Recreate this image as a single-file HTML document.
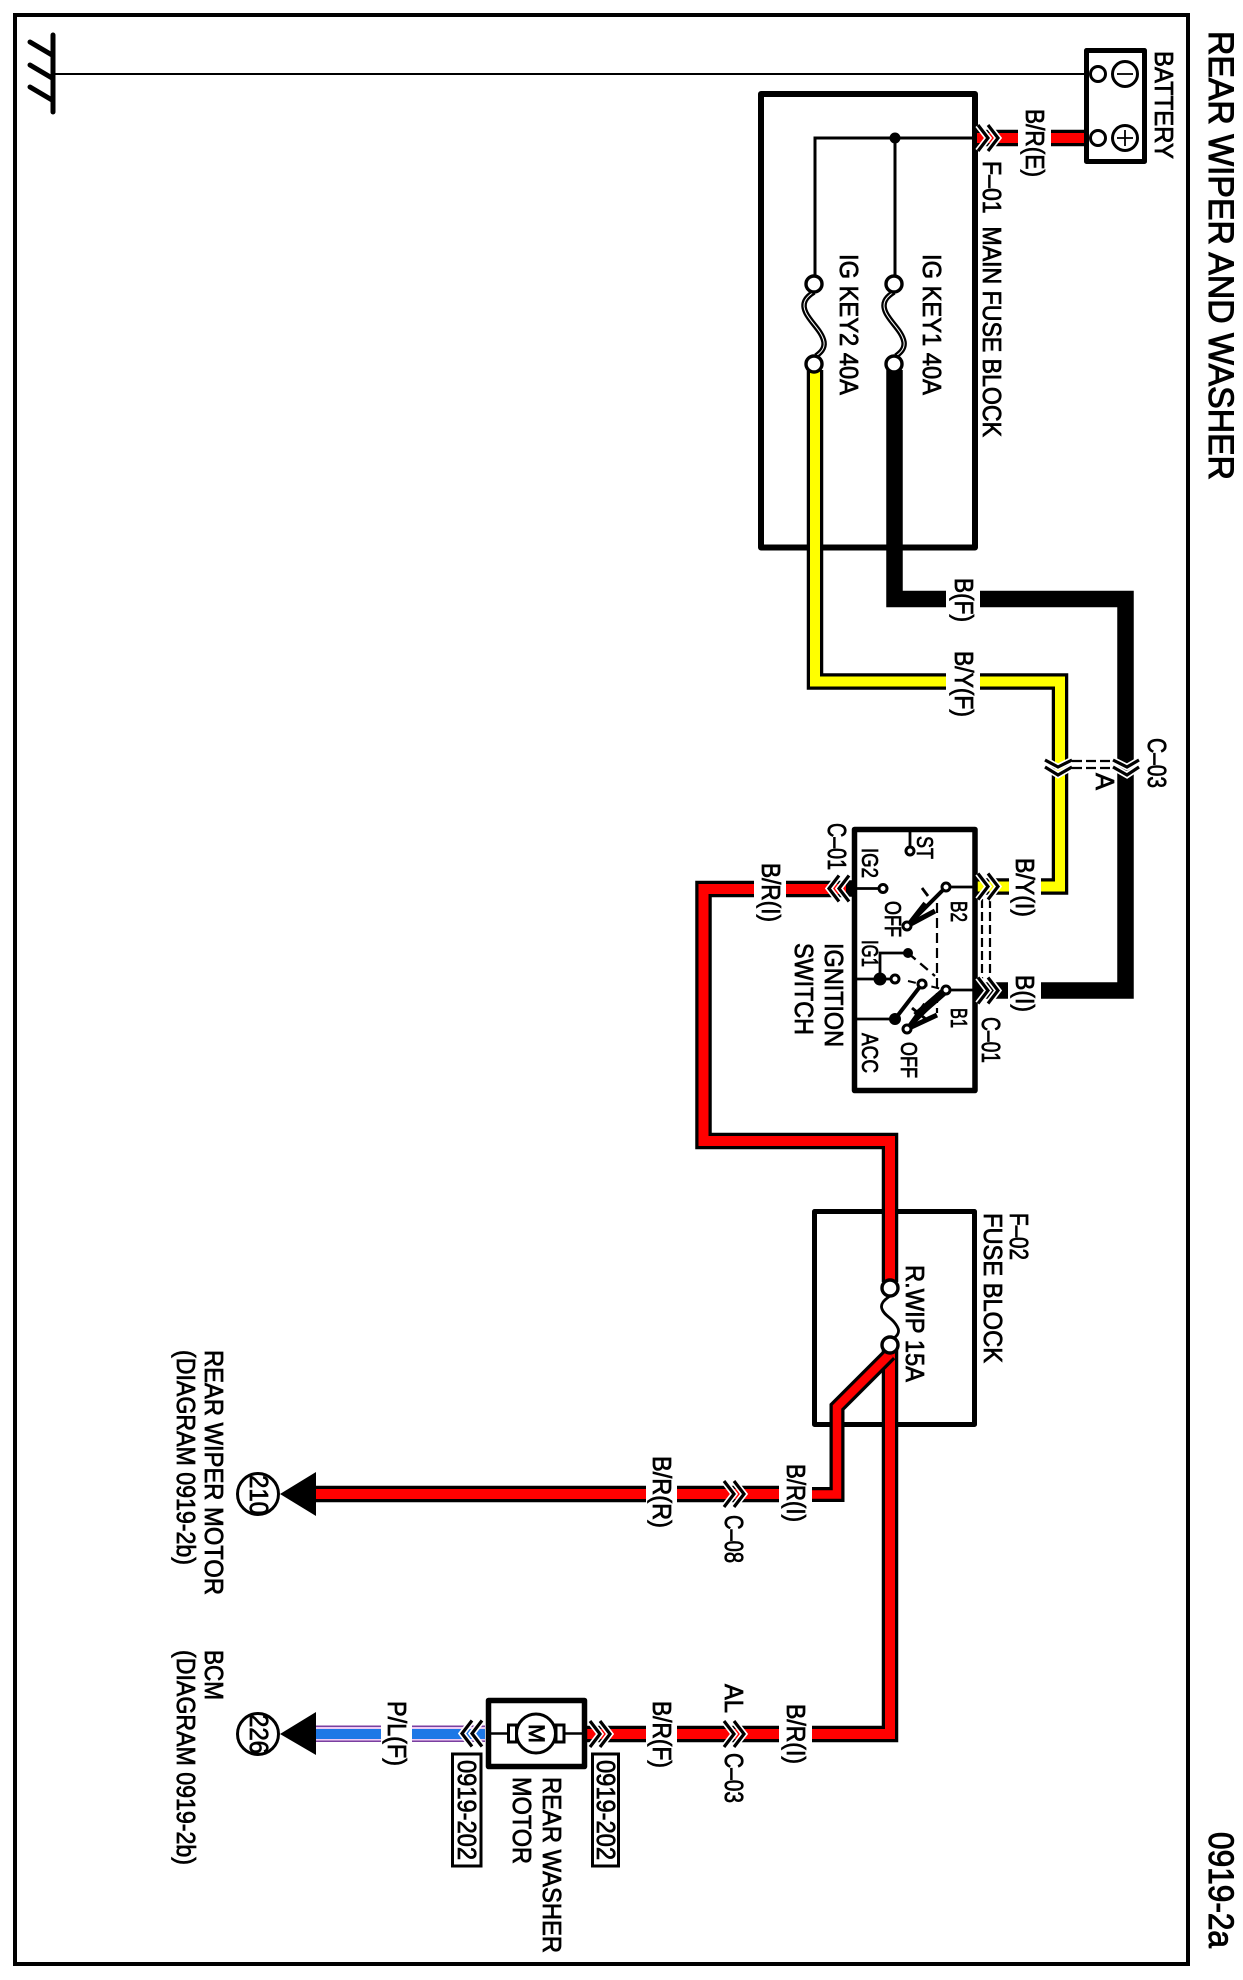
<!DOCTYPE html>
<html><head><meta charset="utf-8"><style>
html,body{margin:0;padding:0;background:#fff}
svg{display:block}
text{font-family:"Liberation Sans",sans-serif;fill:#000;stroke:#000;stroke-width:.75}
.bk{fill:none;stroke:#000;stroke-width:16.5;stroke-linejoin:miter}
.r{fill:none;stroke:#f00;stroke-width:10;stroke-linejoin:miter}
.y{fill:none;stroke:#ff0;stroke-width:10;stroke-linejoin:miter}
.box{fill:none;stroke:#000;stroke-width:5;stroke-linejoin:round}
.t{fill:none;stroke:#000;stroke-width:2.5}
.c{fill:#fff;stroke:#000;stroke-width:3.4}
.s{fill:#fff;stroke:#000;stroke-width:3}
.chw{fill:none;stroke:#fff;stroke-width:6.5}
.chb{fill:none;stroke:#000;stroke-width:3.2}
</style></head><body>
<svg xmlns="http://www.w3.org/2000/svg" width="1243" height="1980" viewBox="0 0 1243 1980">
<defs>
<g id="ch">
<polyline class="chw" points="-14,-13 -4,0 -14,13"/><polyline class="chw" points="-4,-13 6,0 -4,13"/>
<polyline class="chb" points="-14,-13 -4,0 -14,13"/><polyline class="chb" points="-4,-13 6,0 -4,13"/>
</g>
<g id="fz">
<path d="M814,292C806,297 801,303 806,313C811,323 822,331 824,342C825,349 820,353 816,356" fill="none" stroke="#000" stroke-width="5.5"/>
<path d="M814,292C806,297 801,303 806,313C811,323 822,331 824,342C825,349 820,353 816,356" fill="none" stroke="#fff" stroke-width="1"/>
</g>
</defs>
<rect width="1243" height="1980" fill="#fff"/>
<!-- frame -->
<rect x="15" y="15" width="1173" height="1949" fill="none" stroke="#000" stroke-width="4"/>
<!-- ground -->
<line x1="53" y1="35" x2="53" y2="112" stroke="#000" stroke-width="5" stroke-linecap="round"/>
<g stroke="#000" stroke-width="5" stroke-linecap="round">
<line x1="30" y1="42" x2="52" y2="55"/><line x1="30" y1="65" x2="52" y2="78"/><line x1="30" y1="87" x2="52" y2="100"/>
</g>
<line x1="53" y1="74" x2="1086" y2="74" stroke="#000" stroke-width="2"/>
<!-- main fuse block -->
<rect x="761" y="94" width="214" height="453.5" class="box" style="stroke-width:6"/>
<!-- battery -->
<polyline class="bk" points="1018,138 977,138"/><polyline class="r" points="1018,138 977,138"/>
<polyline class="bk" points="1084,138 1051,138"/><polyline class="r" points="1084,138 1051,138"/>
<rect x="1086.5" y="50.5" width="58" height="111" class="box"/>
<circle cx="1098" cy="74" r="7.5" class="s"/><circle cx="1098" cy="138" r="7.5" class="s"/>
<circle cx="1125" cy="74" r="12.5" class="s"/><circle cx="1125" cy="138" r="12.5" class="s"/>
<line x1="1117" y1="74" x2="1133" y2="74" class="t" style="stroke-width:1.8"/>
<line x1="1117" y1="138" x2="1133" y2="138" class="t" style="stroke-width:1.8"/><line x1="1125" y1="130" x2="1125" y2="146" class="t" style="stroke-width:1.8"/>
<polyline points="815,275 815,138 977,138" fill="none" stroke="#000" stroke-width="3"/>
<line x1="895" y1="138" x2="895" y2="275" stroke="#000" stroke-width="3"/>
<circle cx="895" cy="138" r="5.5"/>
<use href="#ch" transform="translate(992,138)"/>
<use href="#fz"/><use href="#fz" transform="translate(80,0)"/>
<!-- black wire -->
<polyline class="bk" points="894.5,370 894.5,599 946,599"/>
<polyline class="bk" points="980,599 1125.5,599 1125.5,990.5 1041,990.5"/>
<polyline class="bk" points="977,990.5 1008,990.5"/>
<!-- yellow wire -->
<polyline class="bk" points="815,370 815,681.5 946,681.5"/><polyline class="y" points="815,370 815,681.5 946,681.5"/>
<polyline class="bk" points="980,681.5 1060,681.5 1060,886.5 1041,886.5"/><polyline class="y" points="980,681.5 1060,681.5 1060,886.5 1041,886.5"/>
<polyline class="bk" points="977,886.5 1009,886.5"/><polyline class="y" points="977,886.5 1009,886.5"/>
<circle cx="814" cy="284" r="8" class="c"/><circle cx="814" cy="364" r="8" class="c"/>
<circle cx="894" cy="284" r="8" class="c"/><circle cx="894" cy="364" r="8" class="c"/>
<!-- C-03 chevrons -->
<g>
<polyline class="chw" points="1045,760 1058,767 1072,760"/><polyline class="chw" points="1045,767 1058,775 1072,767"/>
<polyline class="chw" points="1113,760 1127,767 1139,760"/><polyline class="chw" points="1113,767 1127,775 1139,767"/>
<polyline class="chb" points="1045,760 1058,767 1072,760"/><polyline class="chb" points="1045,767 1058,775 1072,767"/>
<polyline class="chb" points="1113,760 1127,767 1139,760"/><polyline class="chb" points="1113,767 1127,775 1139,767"/>
<line x1="1072" y1="761" x2="1113" y2="761" stroke="#000" stroke-width="2.2" stroke-dasharray="10 4"/>
<line x1="1072" y1="768" x2="1113" y2="768" stroke="#000" stroke-width="2.2" stroke-dasharray="10 4"/>
</g>
<!-- red wires -->
<polyline class="bk" points="846,889 786,889"/><polyline class="r" points="846,889 786,889"/>
<!-- F-02 box -->
<rect x="814.5" y="1211.5" width="160" height="213" class="box"/>
<polyline class="bk" points="754,889 703.5,889 703.5,1141 890,1141 890,1282"/><polyline class="r" points="754,889 703.5,889 703.5,1141 890,1141 890,1282"/>
<polyline class="bk" points="890,1350 890,1734 812,1734"/><polyline class="r" points="890,1350 890,1734 812,1734"/>
<polyline class="bk" style="stroke-width:15" points="890,1354 837,1407 837,1494.5 812,1494.5"/><polyline class="r" style="stroke-width:8.5" points="890,1354 837,1407 837,1494.5 812,1494.5"/>
<polyline class="bk" points="779,1494 677,1494"/><polyline class="r" points="779,1494 677,1494"/>
<polyline class="bk" points="646,1494 316,1494"/><polyline class="r" points="646,1494 316,1494"/>
<polyline class="bk" points="779,1734 677,1734"/><polyline class="r" points="779,1734 677,1734"/>
<polyline class="bk" points="646,1734 587,1734"/><polyline class="r" points="646,1734 587,1734"/>
<circle cx="890" cy="1288" r="8" class="c"/><circle cx="890" cy="1345" r="8" class="c"/>
<path d="M890,1296C884,1300 880,1304 882,1309C884,1315 890,1317 894,1322C899,1328 901,1333 894,1338" fill="none" stroke="#000" stroke-width="2.8"/>
<use href="#ch" transform="translate(738,1494)"/>
<use href="#ch" transform="translate(738,1734)"/>
<use href="#ch" transform="translate(604,1734)"/>
<!-- blue wire -->
<g>
<rect x="316" y="1725.5" width="65" height="16.5" fill="#7a3fa0"/><rect x="316" y="1727" width="65" height="13.5" fill="#eecbf5"/><rect x="316" y="1729" width="65" height="10" fill="#1e78e6"/>
<rect x="412" y="1725.5" width="73" height="16.5" fill="#7a3fa0"/><rect x="412" y="1727" width="73" height="13.5" fill="#eecbf5"/><rect x="412" y="1729" width="73" height="10" fill="#1e78e6"/>
</g>
<use href="#ch" transform="translate(468,1733.5) rotate(180)"/>
<!-- terminals -->
<polygon points="280,1494 316,1472 316,1516" fill="#000"/>
<polygon points="280,1734 316,1712 316,1755" fill="#000"/>
<circle cx="258" cy="1494" r="20.5" class="s"/><circle cx="258" cy="1734" r="20.5" class="s"/>
<!-- motor -->
<rect x="488.5" y="1700.5" width="96" height="66" class="box" style="stroke-width:5.5"/>
<line x1="490" y1="1733.5" x2="586" y2="1733.5" class="t"/>
<rect x="508.5" y="1725" width="8" height="17" class="s"/><rect x="556" y="1725" width="8" height="17" class="s"/>
<circle cx="536" cy="1733.5" r="19.5" class="s"/>
<rect x="452.5" y="1754" width="28.5" height="112" fill="#fff" stroke="#000" stroke-width="3"/>
<rect x="592.5" y="1754" width="26" height="112" fill="#fff" stroke="#000" stroke-width="3"/>
<!-- ignition switch -->
<rect x="854.5" y="829.5" width="120.5" height="261" class="box" style="stroke-width:5.5"/>
<polyline class="bk" points="852,888.5 846,888.5"/>
<use href="#ch" transform="translate(835,888.5) rotate(180)"/>
<line x1="982" y1="899" x2="982" y2="983" stroke="#000" stroke-width="2.2" stroke-dasharray="9 4"/>
<line x1="990" y1="899" x2="990" y2="983" stroke="#000" stroke-width="2.2" stroke-dasharray="9 4"/>
<use href="#ch" transform="translate(992,886.5)"/><use href="#ch" transform="translate(992,990.5)"/>
<g stroke="#000" fill="none">
<line x1="910" y1="829" x2="910" y2="850" stroke-width="2.8"/>
<line x1="854" y1="888.5" x2="880" y2="888.5" stroke-width="2.8"/>
<line x1="950" y1="887" x2="975" y2="887" stroke-width="2.8"/>
<line x1="950" y1="990" x2="975" y2="990" stroke-width="2.8"/>
<line x1="854" y1="979" x2="892" y2="979" stroke-width="2.8"/>
<polyline points="880,979 880,953 908,953" stroke-width="2.8"/>
<line x1="854" y1="1019" x2="895" y2="1019" stroke-width="2.8"/>
<line x1="946" y1="887" x2="907" y2="926" stroke-width="4"/>
<line x1="907" y1="926" x2="935" y2="911" stroke-width="5"/>
<line x1="907" y1="926" x2="925" y2="903" stroke-width="4"/>
<line x1="922" y1="888" x2="928" y2="896" stroke-width="2.8"/>
<line x1="937" y1="903" x2="937" y2="1013" stroke-width="2.2" stroke-dasharray="10 5"/>
<line x1="908" y1="953" x2="935" y2="976" stroke-width="2.4" stroke-dasharray="10 6"/>
<line x1="908" y1="981" x2="946" y2="990" stroke-width="2" stroke-dasharray="8 4"/>
<line x1="922" y1="984" x2="895" y2="1019" stroke-width="4"/>
<line x1="946" y1="990" x2="907" y2="1029" stroke-width="4"/>
<line x1="946" y1="990" x2="916" y2="1016" stroke-width="8"/>
<line x1="907" y1="1029" x2="937" y2="1015" stroke-width="5"/>
<line x1="907" y1="1029" x2="925" y2="1004" stroke-width="4"/>
<line x1="912" y1="1008" x2="927" y2="1020" stroke-width="3"/>
</g>
<circle cx="910" cy="851" r="4" class="s"/><circle cx="883" cy="888.5" r="4" class="s"/>
<circle cx="946" cy="887" r="4" class="s"/><circle cx="907" cy="926" r="4" class="s"/>
<circle cx="880" cy="979" r="6.5"/><circle cx="895" cy="979" r="4" class="s"/>
<circle cx="908" cy="953" r="5"/><circle cx="922" cy="984" r="4" class="s"/>
<circle cx="946" cy="990" r="4" class="s"/><circle cx="895" cy="1019" r="6"/>
<circle cx="907" cy="1029" r="4" class="s"/>
<!-- text -->
<g font-size="26">
<text font-size="35" style="stroke-width:1" transform="translate(1209,31) rotate(90)" textLength="449" lengthAdjust="spacingAndGlyphs">REAR WIPER AND WASHER</text>
<text font-size="35" style="stroke-width:1" transform="translate(1209,1832) rotate(90)" textLength="116" lengthAdjust="spacingAndGlyphs">0919-2a</text>
<text transform="translate(1155,51) rotate(90)" textLength="108" lengthAdjust="spacingAndGlyphs">BATTERY</text>
<text transform="translate(1026,109) rotate(90)" textLength="68" lengthAdjust="spacingAndGlyphs">B/R(E)</text>
<text transform="translate(983,161) rotate(90)" textLength="276" lengthAdjust="spacingAndGlyphs">F–01&#160;&#160;MAIN FUSE BLOCK</text>
<text transform="translate(923,254) rotate(90)" textLength="141" lengthAdjust="spacingAndGlyphs">IG KEY1 40A</text>
<text transform="translate(840,254) rotate(90)" textLength="141" lengthAdjust="spacingAndGlyphs">IG KEY2 40A</text>
<text transform="translate(955,578) rotate(90)" textLength="44" lengthAdjust="spacingAndGlyphs">B(F)</text>
<text transform="translate(955,651) rotate(90)" textLength="66" lengthAdjust="spacingAndGlyphs">B/Y(F)</text>
<text transform="translate(1148,738) rotate(90)" textLength="50" lengthAdjust="spacingAndGlyphs">C–03</text>
<text transform="translate(1096,773) rotate(90)" textLength="17" lengthAdjust="spacingAndGlyphs">A</text>
<text transform="translate(1016,858) rotate(90)" textLength="59" lengthAdjust="spacingAndGlyphs">B/Y(I)</text>
<text transform="translate(1016,975) rotate(90)" textLength="37" lengthAdjust="spacingAndGlyphs">B(I)</text>
<text transform="translate(982,1017) rotate(90)" textLength="46" lengthAdjust="spacingAndGlyphs">C–01</text>
<text transform="translate(828,823) rotate(90)" textLength="47" lengthAdjust="spacingAndGlyphs">C–01</text>
<text transform="translate(762,863) rotate(90)" textLength="59" lengthAdjust="spacingAndGlyphs">B/R(I)</text>
<text font-size="23" transform="translate(917,836) rotate(90)" textLength="23" lengthAdjust="spacingAndGlyphs">ST</text>
<text font-size="23" transform="translate(862,848) rotate(90)" textLength="30" lengthAdjust="spacingAndGlyphs">IG2</text>
<text font-size="23" transform="translate(951,901) rotate(90)" textLength="21" lengthAdjust="spacingAndGlyphs">B2</text>
<text font-size="23" transform="translate(885,901) rotate(90)" textLength="36" lengthAdjust="spacingAndGlyphs">OFF</text>
<text font-size="23" transform="translate(862,940) rotate(90)" textLength="27" lengthAdjust="spacingAndGlyphs">IG1</text>
<text font-size="23" transform="translate(951,1008) rotate(90)" textLength="20" lengthAdjust="spacingAndGlyphs">B1</text>
<text font-size="23" transform="translate(901,1042) rotate(90)" textLength="36" lengthAdjust="spacingAndGlyphs">OFF</text>
<text font-size="23" transform="translate(862,1033) rotate(90)" textLength="40" lengthAdjust="spacingAndGlyphs">ACC</text>
<text transform="translate(825,943) rotate(90)" textLength="104" lengthAdjust="spacingAndGlyphs">IGNITION</text>
<text transform="translate(795,943) rotate(90)" textLength="92" lengthAdjust="spacingAndGlyphs">SWITCH</text>
<text transform="translate(1010,1213) rotate(90)" textLength="47" lengthAdjust="spacingAndGlyphs">F–02</text>
<text transform="translate(984,1213) rotate(90)" textLength="150" lengthAdjust="spacingAndGlyphs">FUSE BLOCK</text>
<text transform="translate(906,1265) rotate(90)" textLength="117" lengthAdjust="spacingAndGlyphs">R.WIP 15A</text>
<text transform="translate(787,1464) rotate(90)" textLength="58" lengthAdjust="spacingAndGlyphs">B/R(I)</text>
<text transform="translate(653,1456) rotate(90)" textLength="72" lengthAdjust="spacingAndGlyphs">B/R(R)</text>
<text transform="translate(725,1515) rotate(90)" textLength="48" lengthAdjust="spacingAndGlyphs">C–08</text>
<text transform="translate(787,1704) rotate(90)" textLength="60" lengthAdjust="spacingAndGlyphs">B/R(I)</text>
<text transform="translate(653,1701) rotate(90)" textLength="67" lengthAdjust="spacingAndGlyphs">B/R(F)</text>
<text transform="translate(725,1684) rotate(90)" textLength="29" lengthAdjust="spacingAndGlyphs">AL</text>
<text transform="translate(725,1753) rotate(90)" textLength="50" lengthAdjust="spacingAndGlyphs">C–03</text>
<text transform="translate(388,1701) rotate(90)" textLength="65" lengthAdjust="spacingAndGlyphs">P/L(F)</text>
<text font-size="26" transform="translate(597,1760) rotate(90)" textLength="100" lengthAdjust="spacingAndGlyphs">0919-202</text>
<text font-size="26" transform="translate(458,1760) rotate(90)" textLength="100" lengthAdjust="spacingAndGlyphs">0919-202</text>
<text transform="translate(543,1777) rotate(90)" textLength="176" lengthAdjust="spacingAndGlyphs">REAR WASHER</text>
<text transform="translate(513,1777) rotate(90)" textLength="87" lengthAdjust="spacingAndGlyphs">MOTOR</text>
<text transform="translate(205,1350) rotate(90)" textLength="245" lengthAdjust="spacingAndGlyphs">REAR WIPER MOTOR</text>
<text transform="translate(177,1350) rotate(90)" textLength="215" lengthAdjust="spacingAndGlyphs">(DIAGRAM 0919-2b)</text>
<text transform="translate(205,1650) rotate(90)" textLength="50" lengthAdjust="spacingAndGlyphs">BCM</text>
<text transform="translate(177,1650) rotate(90)" textLength="215" lengthAdjust="spacingAndGlyphs">(DIAGRAM 0919-2b)</text>
<text font-size="26" transform="translate(250,1475) rotate(90)" textLength="40" lengthAdjust="spacingAndGlyphs">210</text>
<text font-size="26" transform="translate(250,1714) rotate(90)" textLength="40" lengthAdjust="spacingAndGlyphs">226</text>
<text font-size="22" transform="translate(529,1724) rotate(90)" textLength="19" lengthAdjust="spacingAndGlyphs">M</text>
</g>
</svg>
</body></html>
